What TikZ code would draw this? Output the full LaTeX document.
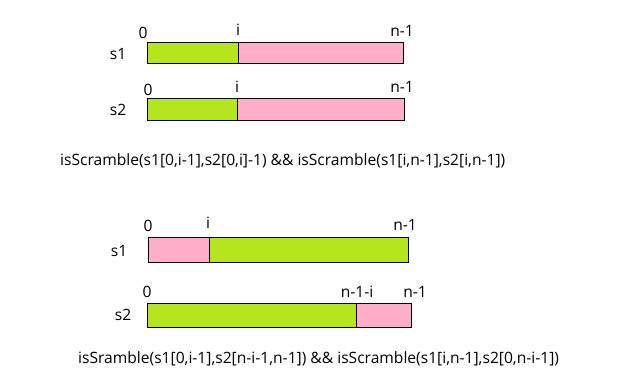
\documentclass[tikz,border=0pt]{standalone}
\usepackage{fontspec}
\setmainfont{Open Sans}
\usetikzlibrary{positioning}
\definecolor{limegreen}{HTML}{B5E61D}
\definecolor{paintpink}{HTML}{FFAEC9}

\begin{document}
\begin{tikzpicture}[x=1pt,y=-1pt,font=\fontsize{15.6}{18}\selectfont]
  \tikzstyle{green part}=[fill=limegreen,draw=black,line width=0.9pt]
  \tikzstyle{pink part}=[fill=paintpink,draw=black,line width=0.9pt]
  \tikzstyle{idx}=[inner sep=0pt,anchor=base]
  \tikzstyle{str label}=[inner sep=0pt,anchor=base]
  \useasboundingbox (0,0) rectangle (636,388);

  % first case
  \filldraw[green part] (147,42) rectangle (238,63);
  \filldraw[pink part] (238,42) rectangle (403,63);
  \node[str label] (s1a) at (118,59) {s1};
  \node[idx] (z1a) at (143,38) {0};
  \node[idx] (i1a) at (238,35) {i};
  \node[idx] (n1a) at (402,36) {n-1};

  \filldraw[green part] (147,98) rectangle (237,120);
  \filldraw[pink part] (237,98) rectangle (404,120);
  \node[str label] (s2a) at (118,115) {s2};
  \node[idx] (z2a) at (148,95) {0};
  \node[idx] (i2a) at (237,92) {i};
  \node[idx] (n2a) at (402,92) {n-1};

  \node[anchor=base west,inner sep=0pt] (fa) at (60,165)
    {isScramble(s1[0,i-1],s2[0,i]-1) \&\& isScramble(s1[i,n-1],s2[i,n-1])};

  % second case
  \filldraw[pink part] (148,237) rectangle (209,262);
  \filldraw[green part] (209,237) rectangle (408,262);
  \node[str label] (s1b) at (119,256) {s1};
  \node[idx] (z1b) at (148,231) {0};
  \node[idx] (i1b) at (208,228) {i};
  \node[idx] (n1b) at (405,230) {n-1};

  \filldraw[green part] (147,303) rectangle (356,327);
  \filldraw[pink part] (356,303) rectangle (411,327);
  \node[str label] (s2b) at (123,320) {s2};
  \node[idx] (z2b) at (147,297) {0};
  \node[idx] (m2b) at (357,297) {n-1-i};
  \node[idx] (n2b) at (415,297) {n-1};

  \node[anchor=base west,inner sep=0pt] (fb) at (78,363)
    {isSramble(s1[0,i-1],s2[n-i-1,n-1]) \&\& isScramble(s1[i,n-1],s2[0,n-i-1])};
\end{tikzpicture}
\end{document}
